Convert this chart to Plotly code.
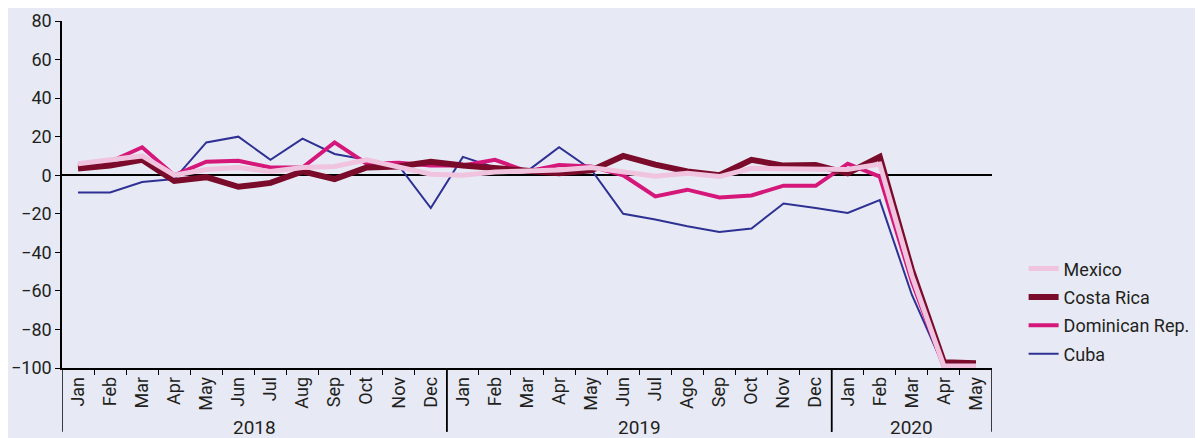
import plotly.graph_objects as go

#categories: year group and month for each point
years = ['2018'] * 12 + ['2019'] * 12 + ['2020'] * 5
months = ['Jan', 'Feb', 'Mar', 'Apr', 'May', 'Jun', 'Jul', 'Aug', 'Sep', 'Oct', 'Nov', 'Dec',
          'Jan', 'Feb', 'Mar', 'Apr', 'May', 'Jun', 'Jul', 'Ago', 'Sep', 'Oct', 'Nov', 'Dec',
          'Jan', 'Feb', 'Mar', 'Apr', 'May']

#series values (year-on-year variation, %)
mexico = [6, 8, 10, 0, 3, 4, 2, 4, 4.5, 8, 4.5, 0.5,
          0, 1.7, 2.2, 2.7, 4, 2, -0.5, 1, -0.7, 3.6, 3.6, 3,
          3, 5.8, -52, -99, -99]
costa_rica = [3.5, 5, 8, -3, -1, -6, -4, 2, -2, 4, 4.5, 7,
              5, 3.5, 2, 1, 2.5, 10, 5.5, 2, 0, 8, 5, 5.3,
              1, 9.5, -49, -97, -97.5]
dominican = [5, 7, 14.5, 0, 7, 7.5, 4, 4, 17, 6, 6.5, 5,
             5, 8, 2, 5.3, 4.5, 0, -11, -7.5, -11.5, -10.5, -5.4, -5.5,
             6, -0.7, -55, -99.5, -99.5]
cuba = [-9, -9, -3.5, -2, 17, 20, 8, 19, 11, 8, 5, -17,
        9.5, 4, 2, 14.5, 3, -20, -23, -26.5, -29.4, -27.6, -14.7, -17,
        -19.6, -12.9, -62, -99.5, -99.5]

font_name = 'Roboto, sans-serif'
text_color = '#231f20'
x = list(range(len(months)))

#year groups: first and last index of each year
groups = []
for i, yr in enumerate(years):
    if not groups or groups[-1][0] != yr:
        groups.append([yr, i, i])
    else:
        groups[-1][2] = i

fig = go.Figure()
fig.add_traces(
    [
        go.Scatter(x=x, y=cuba, mode='lines', name='Cuba', legendrank=4, legendgroup='cu',
                   line=dict(color='#2e3192', width=2)),
        go.Scatter(x=x, y=dominican, mode='lines', name='Dominican Rep.', legendrank=3, legendgroup='do',
                   line=dict(color='#d5177a', width=4)),
        go.Scatter(x=x, y=costa_rica, mode='lines', name='Costa Rica', legendrank=2, legendgroup='cr',
                   line=dict(color='#7a0b2a', width=6)),
        go.Scatter(x=x, y=mexico, mode='lines', name='Mexico', legendrank=1, legendgroup='mx',
                   line=dict(color='#f0c4de', width=5)),
    ]
)
#year labels and group dividers under the month labels
for yr, first, last in groups:
    fig.add_annotation(x=(first + last) / 2, y=-0.171, xref='x', yref='paper',
                       text=yr, showarrow=False, yanchor='middle',
                       font=dict(family=font_name, size=19, color=text_color))
    for edge in (first - 0.5, last + 0.5):
        fig.add_shape(type='line', xref='x', yref='paper', x0=edge, x1=edge, y0=0, y1=-0.184,
                      line=dict(color='black', width=1.5))

fig.update_layout(
    width=1203,
    height=438,
    margin=dict(l=54, r=219, t=13, b=78),
    paper_bgcolor='#e7eaf5',
    plot_bgcolor='#e7eaf5',
    font=dict(family=font_name, size=18, color=text_color),
    showlegend=True,
    legend=dict(x=1.034, y=0.339, xanchor='left', yanchor='top', traceorder='grouped',
                bgcolor='rgba(0,0,0,0)', font=dict(size=18), tracegroupgap=2),
)
fig.update_xaxes(
    range=[-0.5, len(months) - 0.5],
    tickmode='array', tickvals=x, ticktext=months, tickangle=-90, ticks='',
    minor=dict(tickmode='array', tickvals=[i + 0.5 for i in x[:-1]], ticks='outside',
               ticklen=5, tickcolor='black', tickwidth=1.2, showgrid=False),
    showline=True, linecolor='black', linewidth=1.5,
    showgrid=False, zeroline=False, automargin=False,
)
fig.update_yaxes(
    range=[-100, 80], dtick=20,
    showline=True, linecolor='black', linewidth=1.5,
    ticks='outside', ticklen=5, tickcolor='black',
    showgrid=False,
    zeroline=True, zerolinecolor='black', zerolinewidth=1.5,
    automargin=False,
)
fig.write_html('out.html')
